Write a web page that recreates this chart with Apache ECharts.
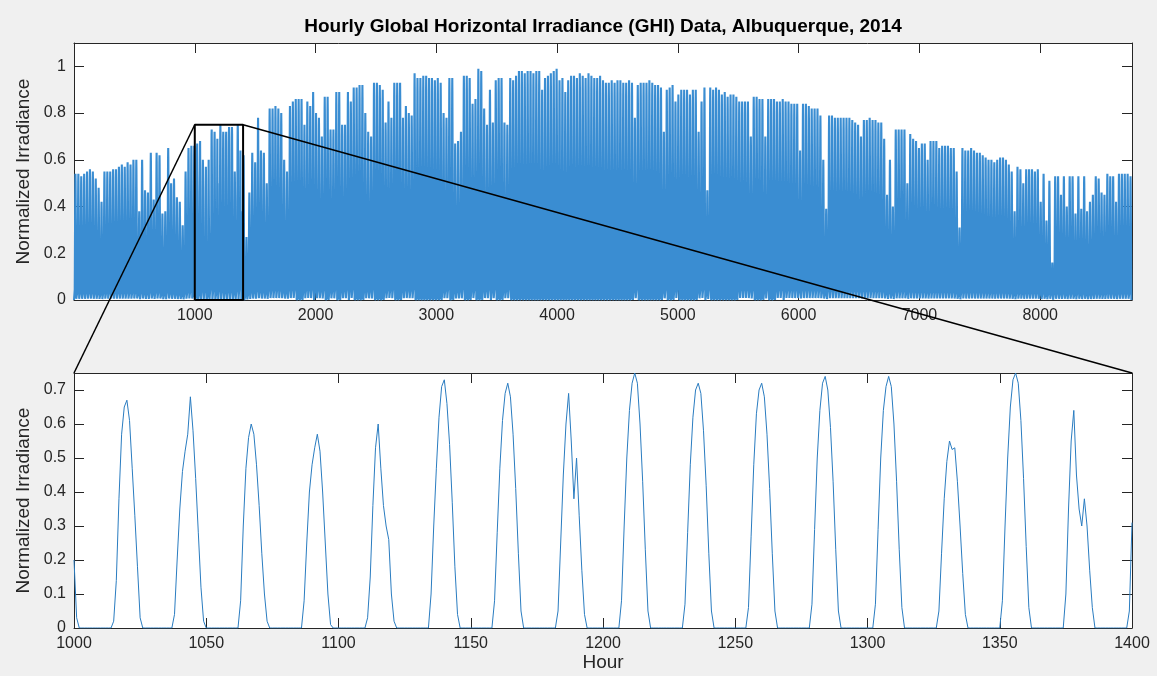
<!DOCTYPE html>
<html><head><meta charset="utf-8">
<script src="https://cdn.jsdelivr.net/npm/echarts@6/dist/echarts.min.js"></script>
<style>html,body{margin:0;padding:0;background:#f0f0f0;}#c{width:1157px;height:676px;}</style>
</head><body><div id="c"></div>
<script>
// ---------- DATA ----------
const titleText = 'Hourly Global Horizontal Irradiance (GHI) Data, Albuquerque, 2014';
const yAxisName = 'Normalized Irradiance';
const xAxisName = 'Hour';

// daily peak of normalized irradiance, day 0 .. 364
const dailyPeak = [
0.54,0.54,0.53,0.54,0.55,0.56,0.55,0.52,0.48,0.42,
0.55,0.55,0.55,0.56,0.56,0.57,0.58,0.57,0.59,0.58,
0.60,0.60,0.38,0.60,0.47,0.46,0.63,0.43,0.63,0.62,
0.37,0.38,0.65,0.50,0.52,0.44,0.42,0.32,0.55,0.65,
0.66,0.66,0.67,0.68,0.60,0.57,0.61,0.73,0.72,0.69,
0.75,0.72,0.72,0.74,0.74,0.55,0.75,0.64,0.62,0.27,
0.46,0.63,0.59,0.78,0.64,0.63,0.50,0.82,0.82,0.83,
0.82,0.80,0.60,0.55,0.83,0.85,0.86,0.86,0.86,0.75,
0.85,0.83,0.89,0.80,0.78,0.70,0.87,0.87,0.73,0.73,
0.89,0.89,0.75,0.75,0.89,0.85,0.91,0.91,0.92,0.92,
0.80,0.72,0.70,0.93,0.93,0.92,0.90,0.76,0.85,0.78,
0.93,0.93,0.93,0.78,0.83,0.80,0.79,0.97,0.95,0.95,
0.96,0.96,0.95,0.95,0.94,0.95,0.93,0.80,0.78,0.95,
0.95,0.67,0.68,0.72,0.96,0.96,0.95,0.84,0.86,0.99,
0.98,0.82,0.75,0.90,0.76,0.94,0.95,0.95,0.76,0.75,
0.95,0.94,0.96,0.98,0.98,0.97,0.98,0.98,0.97,0.98,
0.98,0.90,0.95,0.96,0.97,0.98,0.99,0.94,0.95,0.89,
0.94,0.96,0.96,0.95,0.97,0.96,0.95,0.97,0.96,0.95,
0.95,0.96,0.94,0.93,0.93,0.94,0.93,0.94,0.94,0.93,
0.93,0.94,0.93,0.78,0.92,0.93,0.93,0.93,0.94,0.93,
0.92,0.92,0.91,0.72,0.90,0.91,0.92,0.85,0.88,0.90,
0.90,0.90,0.88,0.90,0.90,0.72,0.85,0.91,0.47,0.91,
0.90,0.91,0.90,0.88,0.89,0.87,0.88,0.88,0.87,0.85,
0.85,0.85,0.85,0.70,0.87,0.87,0.86,0.86,0.70,0.86,
0.86,0.86,0.85,0.85,0.86,0.85,0.85,0.84,0.84,0.84,
0.64,0.84,0.84,0.83,0.82,0.82,0.82,0.79,0.60,0.39,
0.79,0.79,0.78,0.78,0.78,0.78,0.78,0.78,0.77,0.76,
0.75,0.70,0.77,0.77,0.78,0.77,0.77,0.76,0.76,0.69,
0.45,0.60,0.40,0.73,0.73,0.73,0.73,0.50,0.71,0.69,
0.68,0.65,0.67,0.67,0.60,0.68,0.68,0.68,0.65,0.66,
0.66,0.66,0.65,0.65,0.55,0.31,0.65,0.64,0.64,0.65,
0.64,0.63,0.63,0.62,0.61,0.60,0.60,0.59,0.60,0.61,
0.61,0.60,0.58,0.55,0.38,0.57,0.56,0.50,0.56,0.56,
0.56,0.55,0.56,0.42,0.54,0.34,0.51,0.16,0.53,0.53,
0.45,0.53,0.40,0.53,0.53,0.37,0.53,0.39,0.53,0.38,
0.42,0.45,0.53,0.52,0.46,0.45,0.54,0.53,0.53,0.42,
0.54,0.54,0.54,0.54,0.53
];

// relative shape of a day, hour of day 0 .. 23 (solar noon at hour 12)
const hourShape = [0,0,0,0,0,0.01,0.08,0.25,0.45,0.64,0.80,0.94,1.00,0.94,0.80,0.64,0.45,0.25,0.08,0.01,0,0,0,0];

// hourly values, days 41 .. 58, hours of day 6 .. 18
const zoomFirstDay = 41;
const zoomFirstHourOfDay = 6;
const zoomDayValues = [
[0,0.03,0.18,0.38,0.53,0.62,0.66,0.60,0.46,0.33,0.20,0.03,0],
[0,0.02,0.14,0.38,0.57,0.65,0.67,0.61,0.47,0.33,0.18,0.03,0],
[0.04,0.20,0.35,0.46,0.52,0.57,0.68,0.58,0.44,0.28,0.12,0.02,0],
[0,0.08,0.30,0.47,0.56,0.60,0.57,0.48,0.36,0.22,0.10,0.02,0],
[0,0.08,0.25,0.40,0.48,0.53,0.57,0.52,0.40,0.25,0.10,0.01,0],
[0,0.03,0.15,0.36,0.53,0.60,0.47,0.36,0.30,0.26,0.10,0.02,0],
[0,0.10,0.30,0.47,0.62,0.71,0.73,0.66,0.54,0.37,0.18,0.04,0],
[0,0.08,0.28,0.47,0.61,0.69,0.72,0.68,0.57,0.41,0.22,0.05,0],
[0,0.05,0.25,0.45,0.60,0.69,0.55,0.38,0.50,0.33,0.17,0.04,0],
[0,0.08,0.30,0.50,0.64,0.72,0.75,0.72,0.60,0.43,0.23,0.05,0],
[0,0.07,0.28,0.48,0.62,0.70,0.72,0.69,0.58,0.42,0.22,0.05,0],
[0,0.06,0.27,0.48,0.63,0.70,0.72,0.68,0.57,0.41,0.22,0.05,0],
[0,0.07,0.29,0.50,0.64,0.72,0.74,0.70,0.59,0.43,0.23,0.05,0],
[0,0.07,0.29,0.50,0.64,0.71,0.74,0.71,0.60,0.43,0.23,0.06,0],
[0,0.05,0.22,0.38,0.49,0.55,0.525,0.53,0.43,0.30,0.16,0.04,0],
[0,0.08,0.30,0.50,0.65,0.73,0.75,0.72,0.61,0.44,0.24,0.06,0],
[0,0.10,0.35,0.55,0.64,0.45,0.35,0.30,0.38,0.30,0.17,0.06,0],
[0,0.05,0.31,0.47,0.57,0.61,0.62,0.58,0.47,0.33,0.17,0.04,0]
];

const zoomHourRange = [1000, 1400];
const zoomYMax = 0.75;

const topXTicks = [1000,2000,3000,4000,5000,6000,7000,8000];
const topYTicks = [0,0.2,0.4,0.6,0.8,1];
const bottomXTicks = [1000,1050,1100,1150,1200,1250,1300,1350,1400];
const bottomYTicks = [0,0.1,0.2,0.3,0.4,0.5,0.6,0.7];

// ---------- BUILD SERIES ----------
const hourly = [];
for (let d = 0; d < dailyPeak.length; d++) {
  const zi = d - zoomFirstDay;
  const dayVals = (zi >= 0 && zi < zoomDayValues.length) ? zoomDayValues[zi] : null;
  for (let k = 0; k < 24; k++) {
    let v;
    if (dayVals) {
      const j = k - zoomFirstHourOfDay;
      v = (j >= 0 && j < dayVals.length) ? dayVals[j] : 0;
    } else {
      v = dailyPeak[d] * hourShape[k];
    }
    hourly.push([d * 24 + k, v]);
  }
}
const zoomData = hourly.filter(p => p[0] >= zoomHourRange[0] && p[0] <= zoomHourRange[1]);
const zoomRect = [
  [zoomHourRange[0], 0], [zoomHourRange[0], zoomYMax],
  [zoomHourRange[1], zoomYMax], [zoomHourRange[1], 0], [zoomHourRange[0], 0]
];

// ---------- STYLE ----------
const FONT = '"Liberation Sans", Arial, Helvetica, sans-serif';
const AX = '#262626';
const round = v => Math.round(v * 1000) / 1000;

function axis(type, gridIndex, position, min, max, interval, ticks, showLabels, extra) {
  return Object.assign({
    type: 'value', gridIndex, position, min, max, interval,
    axisLine: { show: true, onZero: false, lineStyle: { color: AX, width: 1 } },
    axisTick: { show: true, inside: true, length: 10, lineStyle: { color: AX, width: 1 } },
    splitLine: { show: false },
    axisLabel: {
      show: showLabels, color: AX, fontSize: 16, fontFamily: FONT, margin: 8,
      showMinLabel: true, showMaxLabel: true,
      formatter: v => ticks.indexOf(round(v)) >= 0 ? String(round(v)) : ''
    }
  }, extra || {});
}

const nameStyle = { color: AX, fontSize: 19, fontFamily: FONT };

const chart = echarts.init(document.getElementById('c'), null, { renderer: 'canvas' });
chart.setOption({
  backgroundColor: '#f0f0f0',
  animation: false,
  grid: [
    { left: 74, top: 43, width: 1058, height: 257, show: true, backgroundColor: '#ffffff', borderWidth: 0, outerBoundsMode: 'none' },
    { left: 74, top: 373, width: 1058, height: 255, show: true, backgroundColor: '#ffffff', borderWidth: 0, outerBoundsMode: 'none' }
  ],
  xAxis: [
    axis('x', 0, 'bottom', 0, 8760, 1000, topXTicks, true),
    axis('x', 0, 'top', 0, 8760, 1000, topXTicks, false),
    axis('x', 1, 'bottom', zoomHourRange[0], zoomHourRange[1], 50, bottomXTicks, true,
      { name: xAxisName, nameLocation: 'middle', nameGap: 24, nameTextStyle: nameStyle }),
    axis('x', 1, 'top', zoomHourRange[0], zoomHourRange[1], 50, bottomXTicks, false)
  ],
  yAxis: [
    axis('y', 0, 'left', 0, 1.1, 0.2, topYTicks, true,
      { name: yAxisName, nameLocation: 'middle', nameGap: 36, nameTextStyle: nameStyle }),
    axis('y', 0, 'right', 0, 1.1, 0.2, topYTicks, false),
    axis('y', 1, 'left', 0, zoomYMax, 0.1, bottomYTicks, true,
      { name: yAxisName, nameLocation: 'middle', nameGap: 36, nameTextStyle: nameStyle }),
    axis('y', 1, 'right', 0, zoomYMax, 0.1, bottomYTicks, false)
  ],
  series: [
    { type: 'line', xAxisIndex: 0, yAxisIndex: 0, data: hourly, showSymbol: false, symbol: 'none',
      lineStyle: { color: '#3a8dd2', width: 2.1 }, silent: true, z: 2 },
    { type: 'line', xAxisIndex: 0, yAxisIndex: 0, data: zoomRect, showSymbol: false, symbol: 'none',
      lineStyle: { color: '#000000', width: 2 }, silent: true, z: 5, clip: false },
    { type: 'line', xAxisIndex: 2, yAxisIndex: 2, data: zoomData, showSymbol: false, symbol: 'none',
      lineStyle: { color: '#2a7cc0', width: 1 }, silent: true, z: 2 }
  ]
});

// connector lines and title placed through the chart's own coordinate conversion
const tl = chart.convertToPixel({ seriesIndex: 1 }, [zoomHourRange[0], zoomYMax]);
const tr = chart.convertToPixel({ seriesIndex: 1 }, [zoomHourRange[1], zoomYMax]);
const bl = chart.convertToPixel({ seriesIndex: 2 }, [zoomHourRange[0], zoomYMax]);
const br = chart.convertToPixel({ seriesIndex: 2 }, [zoomHourRange[1], zoomYMax]);
const gL = chart.convertToPixel({ seriesIndex: 0 }, [0, 0]);
const gR = chart.convertToPixel({ seriesIndex: 0 }, [8760, 0]);

chart.setOption({
  graphic: [
    { type: 'line', z: 100, silent: true, shape: { x1: tl[0], y1: tl[1], x2: bl[0], y2: bl[1] },
      style: { stroke: '#000', lineWidth: 1.5 } },
    { type: 'line', z: 100, silent: true, shape: { x1: tr[0], y1: tr[1], x2: br[0], y2: br[1] },
      style: { stroke: '#000', lineWidth: 1.5 } },
    { type: 'text', z: 100, silent: true, x: (gL[0] + gR[0]) / 2, y: 27,
      style: { text: titleText, fill: '#000', font: 'bold 19px ' + FONT, textAlign: 'center', textVerticalAlign: 'middle' } }
  ]
});
</script>
</body></html>
